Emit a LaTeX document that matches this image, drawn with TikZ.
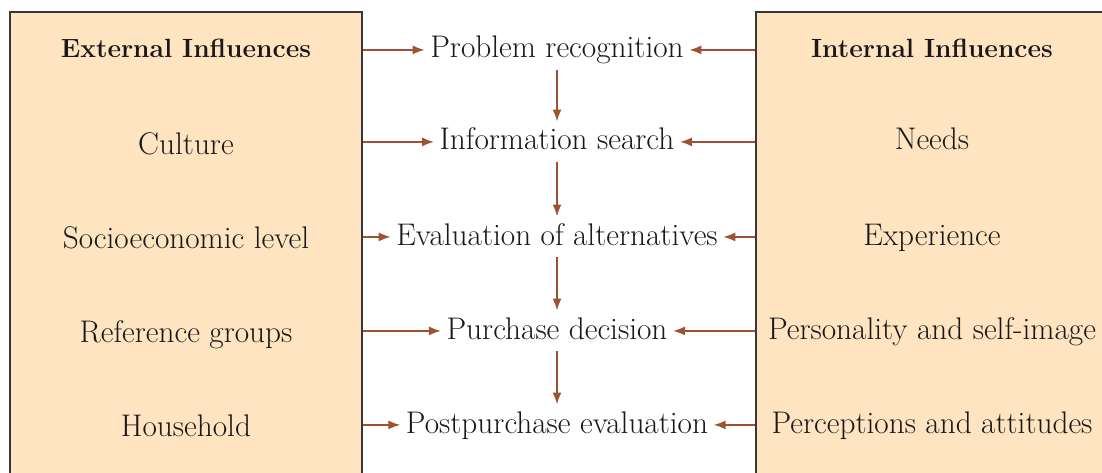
\documentclass[tikz,border=0pt]{standalone}
\usepackage{xcolor}
\usetikzlibrary{positioning}
\usetikzlibrary{arrows.meta}
\definecolor{boxfill}{HTML}{FFE4C2}
\definecolor{boxline}{HTML}{383838}
\definecolor{arrcol}{HTML}{9E5232}
\tikzset{>={Latex[length=2.4mm,width=1.8mm]}}

\begin{document}
\begin{tikzpicture}[x=0.02cm, y=-0.02cm,
  txt/.style={font=\fontsize{17.8}{21}\selectfont, text=black!90,
    anchor=base, inner sep=3pt, text height=13pt, text depth=3.8pt},
  head/.style={txt, font=\fontsize{15}{21}\selectfont\bfseries},
  influence/.style={draw=boxline, line width=1.1pt, fill=boxfill,
    minimum height=9.76cm},
  flow/.style={->, draw=arrcol, line width=1pt}]

\useasboundingbox (0,0) rectangle (1102,473);
\clip (0,0) rectangle (1102,473);

% --- Influence boxes (they run off the page) ---
\node[influence, minimum width=7.04cm] (lbox) at (186,256) {};
\node[influence, minimum width=7.48cm] (rbox) at (943,256) {};

% --- External influences ---
\node[head] (ext0) at (186,58) {External Influences};
\foreach \i/\y/\t in {1/154/Culture, 2/248/Socioeconomic level,
  3/342/Reference groups, 4/436/Household}{
  \node[txt] (ext\i) at (186,\y) {\t};
}

% --- Internal influences ---
\node[head] (int0) at (932,58) {Internal Influences};
\foreach \i/\y/\t in {1/150/Needs, 2/245/Experience,
  3/339/Personality and self-image, 4/433/Perceptions and attitudes}{
  \node[txt] (int\i) at (932,\y) {\t};
}

% --- Decision steps ---
\foreach \i/\y/\t in {1/58/Problem recognition, 2/150/Information search,
  3/245/Evaluation of alternatives, 4/339/Purchase decision,
  5/433/Postpurchase evaluation}{
  \node[txt] (s\i) at (557,\y) {\t};
}

% --- Arrows in from both sides ---
\foreach \i in {1,...,5}{
  \draw[flow] (lbox.east |- s\i) -- (s\i.west);
  \draw[flow] (rbox.west |- s\i) -- (s\i.east);
}

% --- Arrows down the steps ---
\foreach \i/\j in {1/2, 2/3, 3/4, 4/5}{
  \draw[flow] (s\i.south) -- (s\j.north);
}

\end{tikzpicture}
\end{document}
